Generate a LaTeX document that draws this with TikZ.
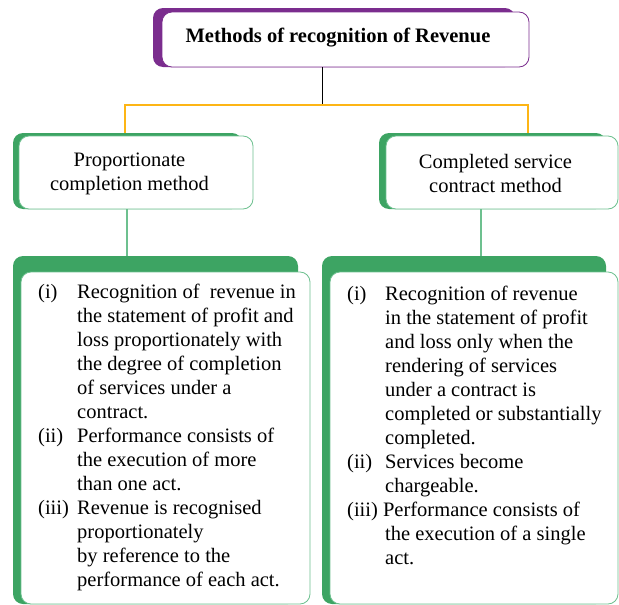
\documentclass[tikz,border=0pt]{standalone}
\usepackage{fontspec}
\setmainfont{Liberation Serif}
\usetikzlibrary{positioning}
\definecolor{revpurple}{HTML}{7B2D8E}
\definecolor{revgreen}{HTML}{3DA463}
\definecolor{revlight}{HTML}{6DC08F}
\definecolor{revorange}{HTML}{FDB515}
\newcommand{\boxfont}{\fontsize{20.5}{24}\selectfont}

\begin{document}
\begin{tikzpicture}[x=1pt,y=-1pt,
    backbox/.style={fill=#1, rounded corners=10pt},
    whitebox/.style={draw=#1, line width=0.8pt, fill=white, rounded corners=10pt, inner sep=0pt},
    boxtext/.style={font=\boxfont, align=center, inner sep=0pt},
    listtext/.style={font=\boxfont, anchor=north west, inner sep=0pt}]
    \useasboundingbox (0,0) rectangle (619,605);
    % top box
    \fill[backbox=revpurple] (153,8) rectangle (515,67);
    \node[whitebox=revpurple, minimum width=367pt, minimum height=55pt] (title) at (345.5,39.5) {};
    \node[boxtext, font=\boxfont\bfseries] (titletxt) at (338,38) {Methods of recognition of Revenue};
    % middle boxes
    \fill[backbox=revgreen] (13,133) rectangle (242,209);
    \node[whitebox=revlight, minimum width=234pt, minimum height=73pt] (pcm) at (136,172.5) {};
    \node[boxtext] (pcmtxt) at (129.5,173.5) {Proportionate\\completion method};
    \fill[backbox=revgreen] (379,133) rectangle (606,209);
    \node[whitebox=revlight, minimum width=232pt, minimum height=73pt] (csc) at (502,172.5) {};
    \node[boxtext] (csctxt) at (495.5,173.5) {Completed service\\contract method};
    % bottom boxes
    \fill[backbox=revgreen] (13,256) rectangle (298,604);
    \node[whitebox=revlight, minimum width=289pt, minimum height=332pt] (pcmbox) at (165.5,438) {};
    \fill[backbox=revgreen] (322,256) rectangle (606,604);
    \node[whitebox=revlight, minimum width=288pt, minimum height=332pt] (cscbox) at (474,438) {};
    \node[listtext] (pcmlist) at (38,281) {\begin{tabular}{@{}p{39pt}@{}l@{}}
        (i) & Recognition of~ revenue in\\
            & the statement of profit and\\
            & loss proportionately with\\
            & the degree of completion\\
            & of services under a\\
            & contract.\\
        (ii) & Performance consists of\\
            & the execution of more\\
            & than one act.\\
        (iii) & Revenue is recognised\\
            & proportionately\\
            & by reference to the\\
            & performance of each act.
    \end{tabular}};
    \node[listtext] (csclist) at (347,283) {\begin{tabular}{@{}p{38pt}@{}l@{}}
        (i) & Recognition of revenue\\
            & in the statement of profit\\
            & and loss only when the\\
            & rendering of services\\
            & under a contract is\\
            & completed or substantially\\
            & completed.\\
        (ii) & Services become\\
            & chargeable.\\
        \multicolumn{2}{@{}l@{}}{(iii) Performance consists of}\\
            & the execution of a single\\
            & act.
    \end{tabular}};
    % connectors
    \coordinate (split) at (322,105);
    \coordinate (pcmtop) at (125,133);
    \coordinate (csctop) at (528,133);
    \draw[line width=1pt] (title.south -| split) -- (split);
    \draw[revorange, line width=1.5pt] (pcmtop) |- (split) -| (csctop);
    \draw[revlight, line width=1.2pt] (pcm.south -| 127,0) -- (127,256);
    \draw[revlight, line width=1.2pt] (csc.south -| 481,0) -- (481,256);
\end{tikzpicture}
\end{document}
